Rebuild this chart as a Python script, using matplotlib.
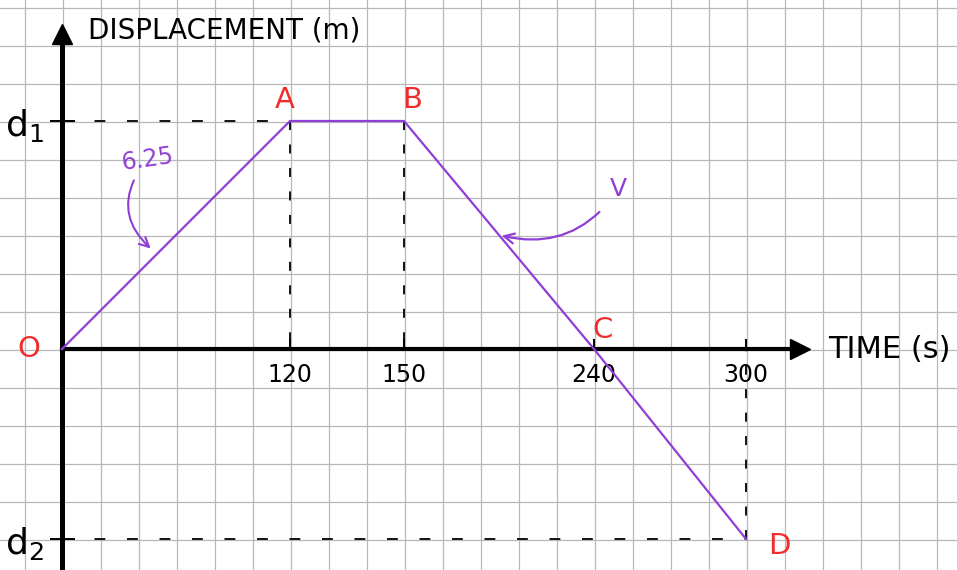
import numpy as np
import matplotlib.pyplot as plt

# points of the motion: time (s) and displacement (m)
point_names = ['O', 'A', 'B', 'C', 'D']
point_t = [0, 120, 150, 240, 300]
point_d = [0, 750, 750, 0, -500]
tick_t = [120, 150, 240, 300]
tick_d = [750, -500]
tick_d_labels = ['d$_1$', 'd$_2$']
slope_label = '6.25'
speed_label = 'V'

# the axes are drawn on squared paper and are not uniform: map values to squares
t_squares = [0, 6, 9, 14, 18]
d_squares = [-5, 0, 6]

W, H = 957, 570          # figure size in px
OX, OY = 62, 349         # origin in px (from top-left)
CELL = 38                # paper square in px

PURPLE = '#8f3fd6'
RED = '#f02d2d'


def extrap_interp(v, xp, fp):
    # piecewise linear, carried on past both ends
    v = np.asarray(v, float)
    xp = np.asarray(xp, float)
    fp = np.asarray(fp, float)
    out = np.interp(v, xp, fp)
    k0 = (fp[1] - fp[0]) / (xp[1] - xp[0])
    k1 = (fp[-1] - fp[-2]) / (xp[-1] - xp[-2])
    out = np.where(v < xp[0], fp[0] + (v - xp[0]) * k0, out)
    out = np.where(v > xp[-1], fp[-1] + (v - xp[-1]) * k1, out)
    return out


t_knots = point_t
d_knots = sorted(set(point_d))
t_fwd = lambda v: extrap_interp(v, t_knots, t_squares)
t_inv = lambda s: extrap_interp(s, t_squares, t_knots)
d_fwd = lambda v: extrap_interp(v, d_knots, d_squares)
d_inv = lambda s: extrap_interp(s, d_squares, d_knots)

fig = plt.figure(figsize=(W / 100, H / 100), dpi=100)

# squared paper
paper = fig.add_axes([0, 0, 1, 1])
paper.set_xlim(0, W)
paper.set_ylim(H, 0)
for x in np.arange(25, W, CELL):
    paper.axvline(x, color='#b8b8b8', lw=0.9)
for y in np.arange(8, H, CELL):
    paper.axhline(y, color='#b8b8b8', lw=0.9)
paper.axis('off')

ax = fig.add_axes([0, 0, 1, 1], facecolor='none')
ax.set_xscale('function', functions=(t_fwd, t_inv))
ax.set_yscale('function', functions=(d_fwd, d_inv))
ax.set_xlim(float(t_inv(-OX / CELL)), float(t_inv((W - OX) / CELL)))
ax.set_ylim(float(d_inv(-(H - OY) / CELL)), float(d_inv(OY / CELL)))

# axes through the origin
for side in ['top', 'right']:
    ax.spines[side].set_visible(False)
ax.spines['left'].set_position(('data', 0))
ax.spines['bottom'].set_position(('data', 0))
ax.spines['left'].set_linewidth(3.6)
ax.spines['bottom'].set_linewidth(3.0)
ax.spines['bottom'].set_bounds(0, float(t_inv((790 - OX) / CELL)))
ax.spines['left'].set_bounds(ax.get_ylim()[0], float(d_inv((OY - 40) / CELL)))
ax.plot(800 / W, 0, marker='>', ms=15, color='k', clip_on=False,
        transform=ax.get_yaxis_transform())
ax.plot(0, 1 - 34 / H, marker='^', ms=15, color='k', clip_on=False,
        transform=ax.get_xaxis_transform())

ax.set_xticks(tick_t, labels=[str(t) for t in tick_t])
ax.tick_params(axis='x', direction='in', length=7, width=1.4, pad=10, labelsize=17)
ax.set_yticks(tick_d, labels=tick_d_labels)
ax.tick_params(axis='y', direction='inout', length=18, width=1.4, pad=4, labelsize=26)
ax.minorticks_off()

# dashed guides to the axes
guide_kw = dict(color='k', lw=1.3, zorder=2)
for name, t, d in zip(point_names, point_t, point_d):
    if name in ('A', 'D'):
        ax.plot([0, t], [d, d], dashes=(6, 12), **guide_kw)
    if name in ('A', 'B', 'D'):
        ax.plot([t, t], [d, 0], dashes=(5, 8), **guide_kw)

ax.plot(point_t, point_d, color=PURPLE, lw=1.6, zorder=3)

# point letters
offsets = {'O': (-24, 0), 'A': (-4, 15), 'B': (6, 15), 'C': (6, 14), 'D': (24, -5)}
for name, t, d in zip(point_names, point_t, point_d):
    ax.annotate(name, (t, d), xytext=offsets[name], textcoords='offset points',
                ha='center', va='center', color=RED, fontsize=21)

# slope and speed notes
t_s = 50
ax.annotate(slope_label, (t_s, point_d[1] * t_s / point_t[1]), xytext=(-7, 68),
            textcoords='offset points', ha='center', va='center', color=PURPLE,
            fontsize=17, rotation=8,
            arrowprops=dict(arrowstyle='->', color=PURPLE, lw=1.5, shrinkB=6,
                            connectionstyle='arc3,rad=0.5'))
t_v = 195
d_v = point_d[2] + (point_d[4] - point_d[2]) * (t_v - point_t[2]) / (point_t[4] - point_t[2])
ax.annotate(speed_label, (t_v, d_v), xytext=(86, 33), textcoords='offset points',
            ha='center', va='center', color=PURPLE, fontsize=18,
            arrowprops=dict(arrowstyle='->', color=PURPLE, lw=1.6, shrinkA=8,
                            connectionstyle='arc3,rad=-0.35'))

fig.text(88 / W, 1 - 30 / H, 'DISPLACEMENT (m)', fontsize=20, va='center', ha='left')
fig.text(828 / W, 1 - 350 / H, 'TIME (s)', fontsize=22, va='center', ha='left')

fig.savefig('out.png', dpi=100)
